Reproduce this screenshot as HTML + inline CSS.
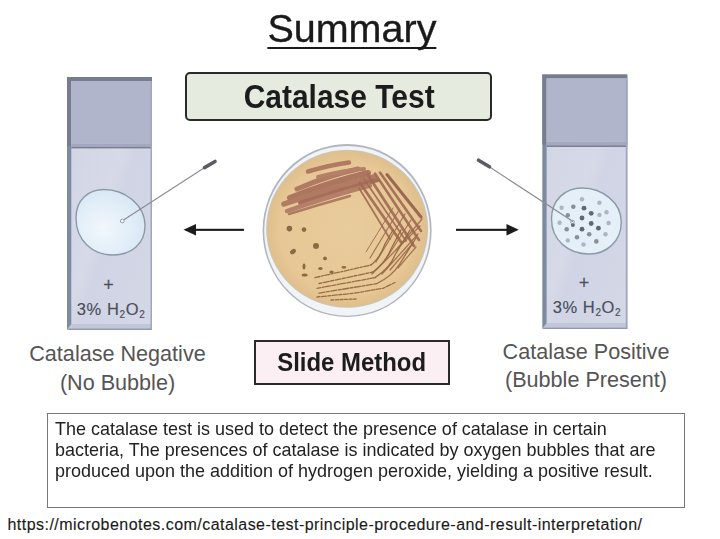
<!DOCTYPE html>
<html><head><meta charset="utf-8">
<style>
html,body{margin:0;padding:0;background:#fff;}
body{width:720px;height:539px;position:relative;overflow:hidden;font-family:"Liberation Sans",sans-serif;color:#222;}
.abs{position:absolute;white-space:nowrap;}
#title{left:252px;top:2.700px;-webkit-text-stroke:0.35px #1a1a1a;width:200px;text-align:center;font-size:39.7px;line-height:50px;color:#1a1a1a;}
#title span{display:inline-block;transform-origin:50% 50%;transform:scaleX(0.995);text-decoration:underline;text-decoration-thickness:2.2px;text-underline-offset:4.800px;text-decoration-skip-ink:none;}
#cbox{left:185px;top:72px;width:303px;height:45px;border:2px solid #2a2a2a;border-radius:5px;background:#e6ebe0;}
#ctext{left:185.500px;top:71.700px;width:307px;height:49px;line-height:49px;text-align:center;font-weight:bold;font-size:33px;color:#1c1c1c;}
#ctext span{display:inline-block;transform:scaleX(0.908);}
#sbox{left:253.700px;top:340px;width:192.600px;height:41.400px;border:2px solid #2a2a2a;background:#fceff3;}
#stext{left:254px;top:340px;width:196px;height:45px;line-height:44px;text-align:center;font-weight:bold;font-size:25.6px;color:#1c1c1c;}
#stext span{display:inline-block;transform:scaleX(0.935);}
.lab{font-size:21.6px;line-height:28.5px;text-align:center;color:#555;}
#para{left:47px;top:413px;width:637.500px;height:94.500px;border:1px solid #777;box-sizing:border-box;}
#ptext{left:55.200px;top:417.800px;font-size:19px;line-height:21px;color:#222;white-space:nowrap;transform-origin:0 0;transform:scaleX(0.9465);}
#url{left:7.500px;top:513.500px;font-size:16px;line-height:22px;color:#1a1a1a;letter-spacing:0.46px;-webkit-text-stroke:0.12px #1a1a1a;}
.h2o2{font-size:16.5px;color:#4a4e58;text-align:center;letter-spacing:0.6px;-webkit-text-stroke:0.15px #4a4e58;}
.h2o2 sub{font-size:10px;vertical-align:-2.800px;line-height:0;}
</style></head><body>
<div class="abs" id="title"><span>Summary</span></div>
<div class="abs" id="cbox"></div><div class="abs" id="ctext"><span>Catalase Test</span></div>

<svg class="abs" style="left:0;top:0" width="720" height="539" viewBox="0 0 720 539">
<defs>
<radialGradient id="agar" cx="50%" cy="50%" r="50%"><stop offset="0" stop-color="#e9cc9c"/><stop offset="0.85" stop-color="#e6c795"/><stop offset="1" stop-color="#dfbf8c"/></radialGradient>
<linearGradient id="glass" x1="0" y1="0" x2="1" y2="1"><stop offset="0" stop-color="#cfd3e3"/><stop offset="0.45" stop-color="#d6dae8"/><stop offset="0.55" stop-color="#d0d4e4"/><stop offset="1" stop-color="#d3d7e6"/></linearGradient>
<radialGradient id="drop" cx="40%" cy="60%" r="65%"><stop offset="0" stop-color="#f1f7fc"/><stop offset="0.6" stop-color="#e2eef8"/><stop offset="1" stop-color="#d6e6f3"/></radialGradient>
<filter id="soft" x="-5%" y="-5%" width="110%" height="110%"><feGaussianBlur stdDeviation="0.5"/></filter>
<clipPath id="agarclip"><ellipse cx="347.150" cy="228.850" rx="79.900" ry="77.900"/></clipPath>
</defs>
<g filter="url(#soft)">
<!-- left slide -->
<g id="slideL">
<rect x="67" y="77" width="85" height="252.600" fill="#7c8b9f"/>
<rect x="67" y="77" width="85" height="69" fill="#787c8f"/>
<rect x="71.300" y="81" width="80.700" height="243" fill="url(#glass)"/>
<rect x="71.300" y="81" width="80.700" height="62.500" fill="#b1b5cb"/>
<rect x="71.300" y="143.500" width="80.700" height="3.200" fill="#a4a8bc"/>
<rect x="71.300" y="146.700" width="80.700" height="1.700" fill="#7a7f93"/>
<path d="M67 329.600 L71.300 324 L152 324 L152 329.600Z" fill="#c0c7d9"/>
<rect x="68" y="328.600" width="84" height="1.200" fill="#8d93aa"/>
<rect x="150.500" y="81" width="1.500" height="248.600" fill="#a0a5bb"/>
<path d="M76 218 C76 200 88 189.500 104 189.500 C124 189.500 145 204 145 226 C145 244 131 255 113 255 C92 255 76 240 76 218Z" fill="url(#drop)" stroke="#8c9aa8" stroke-width="1.400"/>
<line x1="123.500" y1="220" x2="204" y2="168" stroke="#8a8d92" stroke-width="1.200"/>
<line x1="204.500" y1="167.600" x2="215" y2="161.500" stroke="#5c5c62" stroke-width="3.600" stroke-linecap="round"/>
<circle cx="122.300" cy="221" r="1.900" fill="#eef5fb" stroke="#8c9aa8" stroke-width="0.900"/>
</g>
<!-- right slide -->
<g id="slideR">
<rect x="542.300" y="74.500" width="85" height="254.200" fill="#7c8b9f"/>
<rect x="542.300" y="74.500" width="85" height="70" fill="#787c8f"/>
<rect x="546.600" y="78.500" width="80.700" height="244.500" fill="url(#glass)"/>
<rect x="546.600" y="78.500" width="80.700" height="63.300" fill="#b1b5cb"/>
<rect x="546.600" y="141.800" width="80.700" height="3.500" fill="#a4a8bc"/>
<rect x="546.600" y="145.300" width="80.700" height="1.700" fill="#7a7f93"/>
<path d="M542.300 328.700 L546.600 323 L627.300 323 L627.300 328.700Z" fill="#c0c7d9"/>
<rect x="543.300" y="327.700" width="84" height="1.200" fill="#8d93aa"/>
<rect x="625.800" y="78.500" width="1.500" height="250" fill="#a0a5bb"/>
<path d="M551.500 219 C551.500 200 565 188 582 188 C603 188 621.300 203 621.300 222 C621.300 241 607 254 589 254 C568 254 551.500 240 551.500 219Z" fill="#e4eff8" stroke="#8c9aa8" stroke-width="1.400"/>
<g>
<g fill="#aab6c2">
<circle cx="582" cy="199.200" r="2.200"/><circle cx="599.400" cy="202.700" r="2.200"/><circle cx="561.600" cy="207.800" r="2.200"/><circle cx="606.500" cy="212.200" r="2.200"/><circle cx="599.400" cy="214.900" r="2.200"/><circle cx="559.600" cy="222.700" r="2.200"/><circle cx="608.600" cy="223" r="2.200"/><circle cx="605.500" cy="234.300" r="2.200"/><circle cx="567.800" cy="240.400" r="2.200"/><circle cx="583.500" cy="244.500" r="2.200"/>
</g>
<g fill="#87919b">
<circle cx="573.300" cy="206.700" r="2.300"/><circle cx="567.800" cy="215.300" r="2.200"/><circle cx="566.700" cy="229.200" r="2.300"/><circle cx="589.200" cy="234.300" r="2.300"/><circle cx="577" cy="237.300" r="2.300"/><circle cx="596.300" cy="241.400" r="2.300"/>
</g>
<g fill="#60676f">
<circle cx="584" cy="208.200" r="2.400"/><circle cx="591.200" cy="213.300" r="2.400"/><circle cx="582" cy="218" r="2.400"/><circle cx="591.200" cy="223.500" r="2.400"/><circle cx="598.400" cy="228.200" r="2.400"/><circle cx="582" cy="229.200" r="2.400"/><circle cx="572.900" cy="225" r="2"/>
</g>
</g>
<line x1="573" y1="221.500" x2="490" y2="167.200" stroke="#8a8d92" stroke-width="1.200"/>
<line x1="489.500" y1="166.800" x2="478.500" y2="160.200" stroke="#5c5c62" stroke-width="3.600" stroke-linecap="round"/>
<circle cx="572.500" cy="222" r="1.800" fill="none" stroke="#8c9aa8" stroke-width="0.900"/>
</g>
<!-- arrows -->
<g fill="#1c1c1c">
<rect x="194" y="228.800" width="50" height="2.100"/><path d="M183.500 229.800 L196 224 L196 235.600Z"/>
<rect x="456" y="228.800" width="52" height="2.100"/><path d="M518.800 229.800 L506.500 224 L506.500 235.600Z"/>
</g>
<!-- petri dish -->
<g id="dish">
<ellipse cx="347.100" cy="230.500" rx="84.500" ry="86.500" fill="#b0b5bf"/>
<ellipse cx="347.100" cy="230.800" rx="82.900" ry="84.900" fill="#f1f4f7"/>
<ellipse cx="347.150" cy="228.850" rx="81" ry="79" fill="#cbc5b6"/>
<ellipse cx="347.150" cy="228.850" rx="79.900" ry="77.900" fill="url(#agar)"/>
<g clip-path="url(#agarclip)">
<g stroke="#ad7660" fill="none" stroke-linecap="round" opacity="0.95">
<path d="M308 171.500 Q330 165 349 162.500" stroke-width="4.500"/>
<path d="M297 189 Q330 175 358 169" stroke-width="5"/>
<path d="M318 177 Q345 170 364 169" stroke-width="4" stroke="#b27d66"/>
<path d="M290 198 Q330 182 368 173" stroke-width="6" stroke="#a9705b"/>
<path d="M284 204 Q330 188 374 177" stroke-width="5.500"/>
<path d="M300 203 Q340 190 378 180" stroke-width="4" stroke="#a36a55"/>
<path d="M287 211 Q330 196 370 185.500" stroke-width="4.500" stroke="#b27d66"/>
<path d="M289 214 Q318 205 350 196" stroke-width="2.500"/>
</g>
<g stroke="#a26b56" fill="none" stroke-linecap="round" opacity="0.92">
<path d="M360 183 L401 242" stroke-width="2.800"/>
<path d="M359 188 L390 239" stroke-width="1.800"/>
<path d="M364 179 L406 241" stroke-width="1.800"/>
<path d="M368 175 L414 246" stroke-width="2.800"/>
<path d="M375 173.500 L419 240" stroke-width="2.600"/>
<path d="M380 172.500 L421 231" stroke-width="2.600"/>
<path d="M387 174.500 L421 217" stroke-width="3" stroke="#94604e"/>
</g>
<g stroke="#9c6a50" fill="none" stroke-linecap="round" opacity="0.9">
<path d="M420 226 L372 274" stroke-width="1.300"/>
<path d="M418 234 L382 274" stroke-width="1.300"/>
<path d="M413 243 L390 270" stroke-width="1.300"/>
<path d="M405 214 L376 262" stroke-width="1.200"/>
<path d="M411 220 L384 262" stroke-width="1.200"/>
<path d="M399 210 L370 258" stroke-width="1.200"/>
<path d="M393 208 L366 252" stroke-width="1"/>
<path d="M422 219 L396 250" stroke-width="1.300"/>
<path d="M416 247 L398 268" stroke-width="1.200"/>
</g>
<g stroke="#94683f" fill="none" stroke-linecap="round" opacity="0.95" stroke-width="1.300">
<path d="M371 265 Q380 258 385 244 L393 230"/>
<path d="M373 272 Q386 262 391 249 L401 230"/>
<path d="M375 277.600 Q390 268 395 255 L410 230"/>
<path d="M377 283.500 Q392 276 399 265 L416 238"/>
<path d="M315 277.600 L371 265" stroke-dasharray="5 1.500 2 1.500"/>
<path d="M319 283.500 L373 272" stroke-dasharray="3 1.500 6 1.500"/>
<path d="M317 288.300 L375 277.600" stroke-dasharray="4 1.500 2 1.200 5 1.500"/>
<path d="M319 293.200 L377 283.500" stroke-dasharray="6 1.500 3 1.500"/>
<path d="M317 297 L354 293.200 L383 288.300 L395 282.500" stroke-dasharray="3 1.500 5 1.500"/>
<path d="M331 300 L356 299" stroke-dasharray="3 1.500"/>
</g>
<g fill="#8b6a44">
<circle cx="289.400" cy="228.600" r="2.800"/><circle cx="304" cy="229.600" r="2.300"/><circle cx="316" cy="246" r="3"/>
<ellipse cx="293" cy="251.600" rx="3.200" ry="2.200" transform="rotate(-35 293 251.600)"/>
<circle cx="325" cy="258.400" r="1.900"/>
<ellipse cx="304" cy="266.500" rx="1.500" ry="3" />
<ellipse cx="304.700" cy="275" rx="3" ry="1.600"/>
<ellipse cx="320.400" cy="268.600" rx="2.200" ry="1.500"/>
<ellipse cx="331.600" cy="272" rx="2.200" ry="1.500"/>
<ellipse cx="343.900" cy="267.300" rx="2.400" ry="1.400"/>
</g>
</g>
</g>
</g>
</svg>

<div class="abs h2o2" style="left:68.700px;top:274.900px;width:80px;line-height:20px;font-size:18px;">+</div>
<div class="abs h2o2" style="left:61.100px;top:299.200px;width:100px;line-height:20px;">3% H<sub>2</sub>O<sub>2</sub></div>
<div class="abs h2o2" style="left:544.300px;top:272.700px;width:80px;line-height:20px;font-size:18px;">+</div>
<div class="abs h2o2" style="left:536.900px;top:296.900px;width:100px;line-height:20px;">3% H<sub>2</sub>O<sub>2</sub></div>

<div class="abs lab" style="left:17.5px;top:340.200px;width:200px;">Catalase Negative<br>(No Bubble)</div>
<div class="abs lab" style="left:486px;top:337.800px;width:200px;">Catalase Positive<br>(Bubble Present)</div>

<div class="abs" id="sbox"></div><div class="abs" id="stext"><span>Slide Method</span></div>

<div class="abs" id="para"></div>
<div class="abs" id="ptext">The catalase test is used to detect the presence of catalase in certain<br>bacteria, The presences of catalase is indicated by oxygen bubbles that are<br>produced upon the addition of hydrogen peroxide, yielding a positive result.</div>
<div class="abs" id="url">https://microbenotes.com/catalase-test-principle-procedure-and-result-interpretation/</div>
</body></html>
